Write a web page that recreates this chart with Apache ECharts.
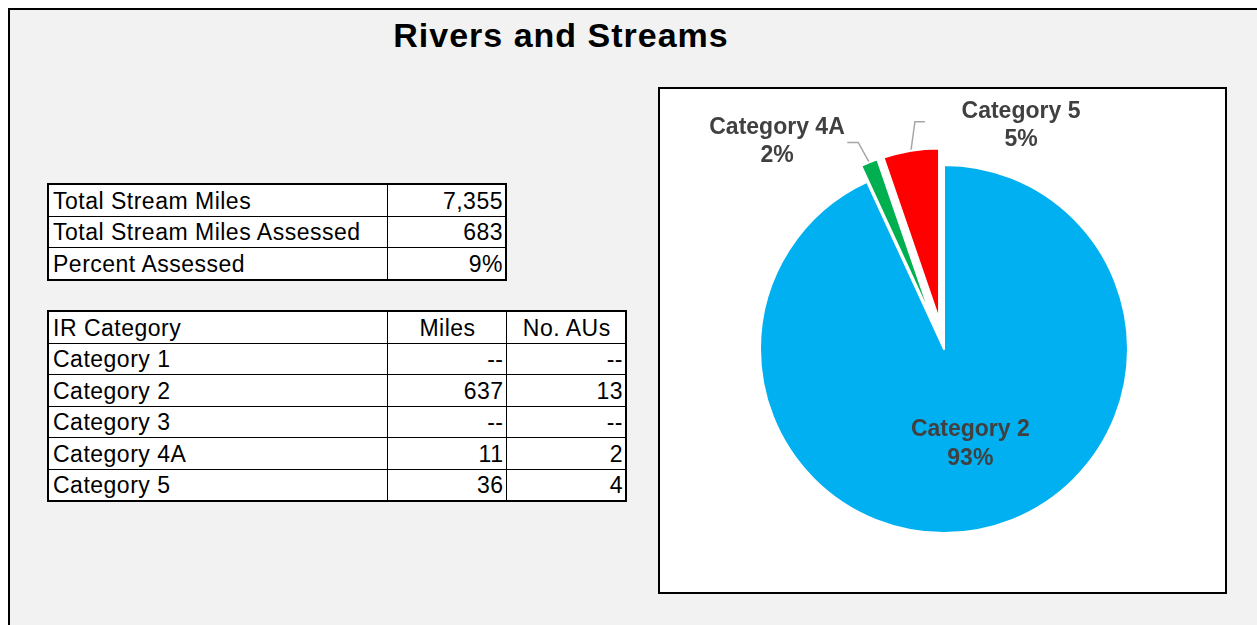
<!DOCTYPE html>
<html>
<head>
<meta charset="utf-8">
<script src="https://cdn.jsdelivr.net/npm/echarts@6/dist/echarts.min.js"></script>
<style>
  html, body {
    margin: 0;
    padding: 0;
    width: 1257px;
    height: 625px;
    overflow: hidden;
    background: #fff;
    font-family: "Liberation Sans", Arial, sans-serif;
  }
  .frame {
    position: absolute;
    left: 8px;
    top: 8px;
    width: 1300px;
    height: 700px;
    border: 2px solid #000;
    background: #f2f2f2;
  }
  .title {
    position: absolute;
    left: 0;
    top: 18px;
    width: 1122px;
    text-align: center;
    font-size: 34px;
    line-height: 34px;
    font-weight: bold;
    letter-spacing: 1px;
    color: #000;
  }
  table {
    position: absolute;
    border-collapse: collapse;
    table-layout: fixed;
    background: #fff;
    font-size: 23px;
    letter-spacing: 0.5px;
    color: #000;
    border: 2px solid #000;
  }
  td {
    border: 1px solid #000;
    height: 29.5px;
    padding: 1px 2px 0 4px;
    white-space: nowrap;
    overflow: hidden;
    line-height: 28px;
  }
  td.num { text-align: right; }
  td.head { text-align: center; }
  .box {
    position: absolute;
    left: 658px;
    top: 87px;
    width: 569px;
    height: 507px;
    box-sizing: border-box;
    border: 2px solid #000;
    background: #fff;
  }
  #chart {
    position: absolute;
    left: 0;
    top: 0;
    width: 1257px;
    height: 625px;
  }
</style>
</head>
<body>
<div class="frame"></div>
<div class="title">Rivers and Streams</div>
<table id="summary" style="left:47px; top:183px; width:458px;">
  <colgroup><col style="width:339px"><col style="width:119px"></colgroup>
  <tbody></tbody>
</table>
<table id="irTable" style="left:47px; top:310px; width:578px;">
  <colgroup><col style="width:339px"><col style="width:119px"><col style="width:120px"></colgroup>
  <tbody></tbody>
</table>
<div class="box"></div>
<div id="chart"></div>

<script>
// summary table
const summaryLabels = ['Total Stream Miles', 'Total Stream Miles Assessed', 'Percent Assessed'];
const summaryValues = ['7,355', '683', '9%'];

// IR category table (null = "--")
const irHeaders = ['IR Category', 'Miles', 'No. AUs'];
const irCategories = ['Category 1', 'Category 2', 'Category 3', 'Category 4A', 'Category 5'];
const irMiles = [null, 637, null, 11, 36];
const irAUs = [null, 13, null, 2, 4];

const sliceColors = {
  'Category 2': '#00b0f0',
  'Category 4A': '#00b050',
  'Category 5': '#ff0000',
};
const explodedSlices = ['Category 4A', 'Category 5'];

const fmt = v => (v == null ? '--' : String(v));

// build tables
const sBody = document.querySelector('#summary tbody');
summaryLabels.forEach((lab, i) => {
  const tr = document.createElement('tr');
  tr.innerHTML = `<td>${ lab }</td><td class="num">${ summaryValues[i] }</td>`;
  sBody.appendChild(tr);
});
const irBody = document.querySelector('#irTable tbody');
const headRow = document.createElement('tr');
headRow.innerHTML = `<td>${ irHeaders[0] }</td><td class="head">${ irHeaders[1] }</td><td class="head">${ irHeaders[2] }</td>`;
irBody.appendChild(headRow);
irCategories.forEach((cat, i) => {
  const tr = document.createElement('tr');
  tr.innerHTML = `<td>${ cat }</td><td class="num">${ fmt(irMiles[i]) }</td><td class="num">${ fmt(irAUs[i]) }</td>`;
  irBody.appendChild(tr);
});

// pie
const pieItems = irCategories
  .map((name, i) => ({ name, value: irMiles[i] }))
  .filter(d => d.value != null);
const pieTotal = pieItems.reduce((a, c) => a + c.value, 0);

const CENTER = [944, 349];
const R_MAIN = 184;
const R_EXPLODED = 171;
const EXPLODE = 30;

// direction (clockwise from 12 o'clock) of a slice's middle
const midDir = name => {
  let cum = 0;
  for (const d of pieItems) {
    if (d.name === name) {
      const a = (cum + d.value / 2) / pieTotal * Math.PI * 2;
      return [Math.sin(a), -Math.cos(a)];
    }
    cum += d.value;
  }
  return [0, 0];
};

const labelText = {
  fontFamily: '"Liberation Sans", Arial, sans-serif',
  fontSize: 23,
  fontWeight: 'bold',
  color: '#404040',
  lineHeight: 28,
};
// where the outside labels sit, and their leader line bends (relative to slice edge)
const labelSpots = {
  'Category 4A': { x: 777, y: 142, bends: [[-11, -20], [-22, -20]] },
  'Category 5': { x: 1021, y: 126, bends: [[4, -29], [14, -29]] },
};
const hidden = { color: 'rgba(0,0,0,0)', borderWidth: 0 };

const baseSeries = {
  type: 'pie',
  startAngle: 90,
  clockwise: true,
  silent: true,
  avoidLabelOverlap: false,
  percentPrecision: 0,
  itemStyle: { borderColor: '#fff', borderWidth: 2 },
};

const series = [{
  // main (not exploded) slice
  ...baseSeries,
  center: CENTER,
  radius: R_MAIN,
  label: { show: true, position: 'inner', formatter: '{b}\n{d}%', ...labelText, lineHeight: 29, offset: [6, 2] },
  labelLine: { show: false },
  data: pieItems.map(d => explodedSlices.includes(d.name)
    ? { ...d, itemStyle: hidden, label: { show: false } }
    : { ...d, itemStyle: { color: sliceColors[d.name] } }),
}];

explodedSlices.forEach(name => {
  const dir = midDir(name);
  const spot = labelSpots[name];
  series.push({
    ...baseSeries,
    center: [CENTER[0] + dir[0] * EXPLODE, CENTER[1] + dir[1] * EXPLODE],
    radius: R_EXPLODED,
    label: { show: true, position: 'outside', formatter: '{b}\n{d}%', ...labelText },
    labelLine: { show: true, length: 20, length2: 10, lineStyle: { color: '#a6a6a6', width: 1.5 } },
    labelLayout() {
      const edge = EXPLODE + R_EXPLODED;
      const p0 = [CENTER[0] + dir[0] * edge, CENTER[1] + dir[1] * edge];
      const pts = [p0].concat(spot.bends.map(b => [p0[0] + b[0], p0[1] + b[1]]));
      return { x: spot.x, y: spot.y, align: 'center', verticalAlign: 'middle', labelLinePoints: pts };
    },
    data: pieItems.map(d => d.name === name
      ? { ...d, itemStyle: { color: sliceColors[d.name] } }
      : { ...d, itemStyle: hidden, label: { show: false }, labelLine: { show: false } }),
  });
});

const chart = echarts.init(document.getElementById('chart'));
chart.setOption({
  backgroundColor: 'transparent',
  animation: false,
  series,
});
</script>
</body>
</html>
